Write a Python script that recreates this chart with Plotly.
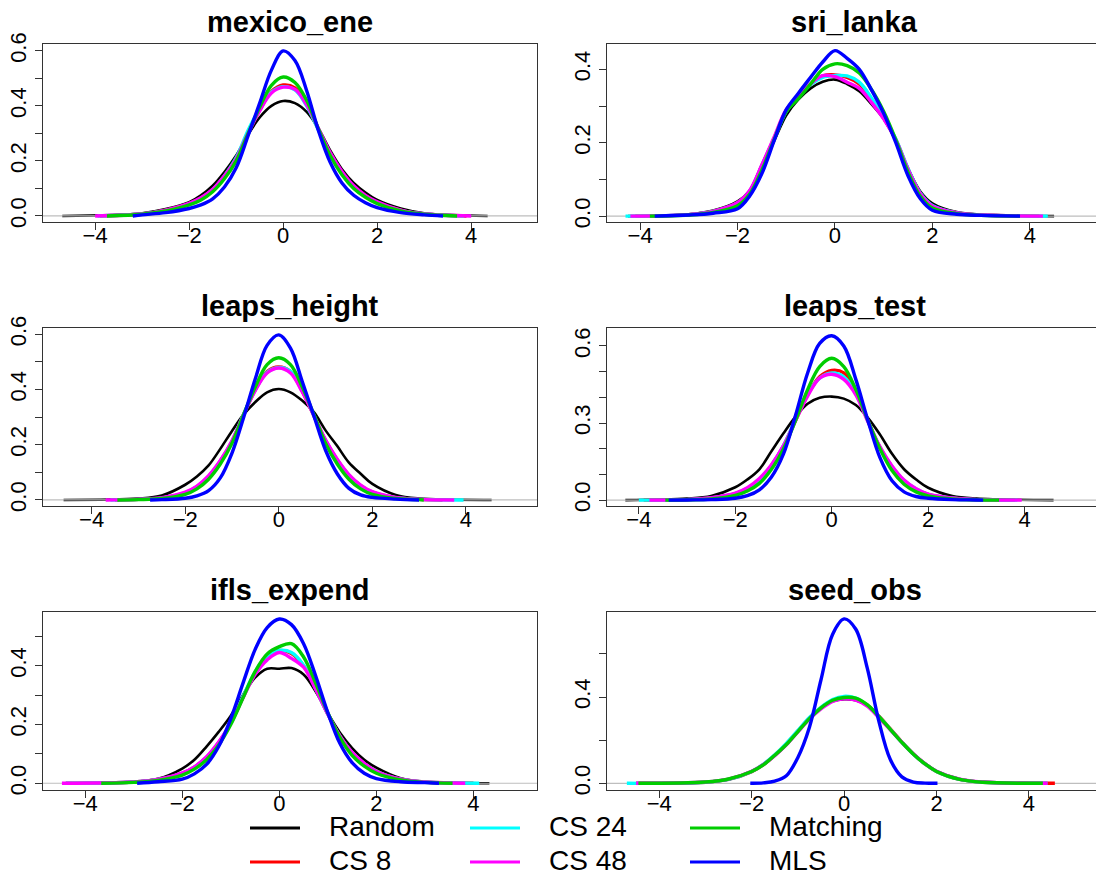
import plotly.graph_objects as go

W, H = 1096, 872

panels = ["mexico_ene", "sri_lanka", "leaps_height", "leaps_test", "ifls_expend", "seed_obs"]
methods = ["Random", "CS 8", "CS 24", "CS 48", "Matching", "MLS"]
colors = ["#000000", "#FF0000", "#00FFFF", "#FF00FF", "#00CD00", "#0000FF"]
widths = [2.6, 3.4, 3.4, 3.4, 3.4, 3.4]

grid_x = [-3, -2.5, -2, -1.75, -1.5, -1.25, -1, -0.75, -0.5, -0.25, 0,
          0.25, 0.5, 0.75, 1, 1.25, 1.5, 1.75, 2, 2.5, 3]

# ---- mexico_ene ----
mexico_ene_random   = [0.010, 0.025, 0.050, 0.075, 0.110, 0.160, 0.220, 0.295, 0.358, 0.400, 0.418, 0.410, 0.378, 0.318, 0.238, 0.170, 0.120, 0.085, 0.058, 0.027, 0.010]
mexico_ene_cs8      = [0.007, 0.021, 0.045, 0.065, 0.096, 0.145, 0.207, 0.300, 0.385, 0.452, 0.476, 0.465, 0.405, 0.315, 0.228, 0.160, 0.108, 0.074, 0.050, 0.021, 0.007]
mexico_ene_cs24     = [0.007, 0.020, 0.044, 0.064, 0.095, 0.146, 0.212, 0.310, 0.390, 0.450, 0.470, 0.458, 0.400, 0.312, 0.225, 0.158, 0.106, 0.072, 0.049, 0.020, 0.007]
mexico_ene_cs48     = [0.007, 0.021, 0.046, 0.066, 0.097, 0.146, 0.208, 0.300, 0.382, 0.447, 0.468, 0.460, 0.404, 0.318, 0.230, 0.162, 0.110, 0.075, 0.051, 0.021, 0.007]
mexico_ene_matching = [0.006, 0.018, 0.040, 0.058, 0.088, 0.135, 0.200, 0.298, 0.395, 0.475, 0.505, 0.485, 0.420, 0.316, 0.220, 0.150, 0.100, 0.068, 0.045, 0.018, 0.006]
mexico_ene_mls      = [0.004, 0.012, 0.027, 0.040, 0.062, 0.105, 0.175, 0.290, 0.410, 0.530, 0.600, 0.565, 0.455, 0.310, 0.195, 0.120, 0.075, 0.048, 0.030, 0.012, 0.004]
mexico_ene_lo = [-4.70, -3.90, -3.95, -4.00, -3.75, -3.20]
mexico_ene_hi = [4.35, 3.90, 3.85, 4.00, 3.70, 3.40]

# ---- sri_lanka ----
sri_lanka_random   = [0.005, 0.015, 0.040, 0.070, 0.139, 0.205, 0.275, 0.318, 0.348, 0.366, 0.372, 0.360, 0.340, 0.305, 0.265, 0.205, 0.130, 0.068, 0.035, 0.011, 0.004]
sri_lanka_cs8      = [0.004, 0.013, 0.036, 0.068, 0.138, 0.212, 0.288, 0.325, 0.360, 0.382, 0.385, 0.378, 0.360, 0.318, 0.268, 0.208, 0.128, 0.062, 0.028, 0.009, 0.003]
sri_lanka_cs24     = [0.004, 0.013, 0.036, 0.068, 0.138, 0.210, 0.285, 0.323, 0.358, 0.378, 0.383, 0.382, 0.365, 0.322, 0.270, 0.210, 0.130, 0.063, 0.029, 0.009, 0.003]
sri_lanka_cs48     = [0.004, 0.013, 0.037, 0.070, 0.140, 0.215, 0.290, 0.325, 0.360, 0.383, 0.380, 0.365, 0.348, 0.310, 0.265, 0.208, 0.128, 0.062, 0.028, 0.009, 0.003]
sri_lanka_matching = [0.003, 0.010, 0.028, 0.060, 0.125, 0.208, 0.285, 0.320, 0.360, 0.400, 0.415, 0.410, 0.390, 0.345, 0.285, 0.208, 0.120, 0.055, 0.022, 0.007, 0.002]
sri_lanka_mls      = [0.003, 0.008, 0.020, 0.055, 0.116, 0.205, 0.290, 0.335, 0.378, 0.420, 0.451, 0.430, 0.400, 0.344, 0.280, 0.200, 0.110, 0.048, 0.016, 0.005, 0.002]
sri_lanka_lo = [-4.25, -4.10, -4.30, -4.20, -3.80, -3.70]
sri_lanka_hi = [4.50, 4.20, 4.37, 4.27, 3.80, 3.80]

# ---- leaps_height ----
leaps_height_random   = [0.005, 0.016, 0.055, 0.085, 0.125, 0.185, 0.250, 0.310, 0.355, 0.390, 0.402, 0.390, 0.360, 0.318, 0.252, 0.195, 0.135, 0.095, 0.058, 0.018, 0.005]
leaps_height_cs8      = [0.002, 0.007, 0.026, 0.048, 0.085, 0.140, 0.212, 0.310, 0.400, 0.465, 0.482, 0.465, 0.395, 0.305, 0.215, 0.145, 0.090, 0.052, 0.028, 0.008, 0.002]
leaps_height_cs24     = [0.002, 0.007, 0.025, 0.047, 0.084, 0.140, 0.213, 0.312, 0.400, 0.462, 0.480, 0.466, 0.398, 0.306, 0.214, 0.144, 0.089, 0.051, 0.027, 0.008, 0.002]
leaps_height_cs48     = [0.002, 0.008, 0.028, 0.050, 0.088, 0.143, 0.214, 0.310, 0.397, 0.460, 0.478, 0.460, 0.392, 0.306, 0.218, 0.148, 0.092, 0.054, 0.030, 0.009, 0.002]
leaps_height_matching = [0.001, 0.005, 0.020, 0.040, 0.075, 0.130, 0.205, 0.310, 0.410, 0.490, 0.515, 0.490, 0.410, 0.310, 0.205, 0.130, 0.075, 0.040, 0.020, 0.005, 0.001]
leaps_height_mls      = [None, 0.001, 0.006, 0.015, 0.034, 0.080, 0.170, 0.300, 0.440, 0.560, 0.598, 0.550, 0.430, 0.305, 0.180, 0.095, 0.042, 0.018, 0.009, 0.003, 0.001]
leaps_height_lo = [-4.60, -3.50, -3.60, -3.70, -3.45, -2.75]
leaps_height_hi = [4.55, 3.50, 3.95, 3.75, 3.10, 3.00]

# ---- leaps_test ----
leaps_test_random   = [0.006, 0.016, 0.050, 0.080, 0.120, 0.190, 0.260, 0.325, 0.375, 0.398, 0.403, 0.395, 0.370, 0.320, 0.255, 0.180, 0.120, 0.080, 0.048, 0.016, 0.006]
leaps_test_cs8      = [0.002, 0.008, 0.025, 0.045, 0.080, 0.135, 0.210, 0.310, 0.410, 0.480, 0.505, 0.495, 0.420, 0.310, 0.205, 0.130, 0.075, 0.042, 0.022, 0.007, 0.002]
leaps_test_cs24     = [0.002, 0.008, 0.025, 0.045, 0.080, 0.135, 0.212, 0.315, 0.412, 0.475, 0.495, 0.480, 0.415, 0.308, 0.205, 0.130, 0.076, 0.043, 0.022, 0.007, 0.002]
leaps_test_cs48     = [0.002, 0.009, 0.027, 0.048, 0.084, 0.138, 0.212, 0.310, 0.405, 0.475, 0.490, 0.470, 0.410, 0.305, 0.208, 0.133, 0.078, 0.044, 0.023, 0.008, 0.002]
leaps_test_matching = [0.001, 0.004, 0.018, 0.035, 0.065, 0.120, 0.200, 0.310, 0.430, 0.520, 0.552, 0.520, 0.430, 0.310, 0.200, 0.115, 0.062, 0.032, 0.016, 0.004, 0.001]
leaps_test_mls      = [0.0005, 0.002, 0.007, 0.017, 0.040, 0.090, 0.180, 0.330, 0.495, 0.610, 0.640, 0.600, 0.470, 0.310, 0.165, 0.075, 0.032, 0.014, 0.007, 0.002, 0.0005]
leaps_test_lo = [-4.28, -3.90, -4.00, -3.78, -3.45, -3.38]
leaps_test_hi = [4.60, 3.80, 3.85, 3.94, 3.47, 3.14]

# ---- ifls_expend ----
ifls_expend_random   = [0.005, 0.015, 0.050, 0.080, 0.125, 0.175, 0.230, 0.300, 0.360, 0.390, 0.390, 0.392, 0.370, 0.312, 0.238, 0.172, 0.120, 0.080, 0.053, 0.017, 0.005]
ifls_expend_cs8      = [0.004, 0.013, 0.034, 0.055, 0.088, 0.138, 0.205, 0.292, 0.375, 0.430, 0.452, 0.442, 0.400, 0.322, 0.235, 0.160, 0.104, 0.066, 0.040, 0.014, 0.004]
ifls_expend_cs24     = [0.004, 0.013, 0.034, 0.055, 0.088, 0.138, 0.206, 0.295, 0.378, 0.432, 0.452, 0.445, 0.402, 0.322, 0.235, 0.160, 0.104, 0.066, 0.040, 0.014, 0.004]
ifls_expend_cs48     = [0.004, 0.013, 0.035, 0.056, 0.090, 0.140, 0.205, 0.290, 0.370, 0.420, 0.445, 0.425, 0.395, 0.320, 0.235, 0.160, 0.105, 0.068, 0.040, 0.014, 0.004]
ifls_expend_matching = [0.003, 0.010, 0.028, 0.048, 0.080, 0.130, 0.200, 0.290, 0.380, 0.440, 0.465, 0.475, 0.430, 0.340, 0.240, 0.155, 0.095, 0.058, 0.034, 0.011, 0.003]
ifls_expend_mls      = [None, 0.005, 0.014, 0.032, 0.064, 0.125, 0.220, 0.340, 0.455, 0.530, 0.559, 0.540, 0.475, 0.365, 0.240, 0.135, 0.070, 0.034, 0.016, 0.005, 0.002]
ifls_expend_lo = [-4.45, -4.40, -4.40, -4.48, -3.67, -2.93]
ifls_expend_hi = [4.33, 4.00, 4.12, 3.83, 3.57, 3.29]

# ---- seed_obs ----
seed_obs_random   = [0.005, 0.018, 0.054, 0.087, 0.130, 0.180, 0.240, 0.300, 0.348, 0.380, 0.390, 0.385, 0.360, 0.310, 0.250, 0.190, 0.135, 0.090, 0.055, 0.018, 0.005]
seed_obs_cs8      = [0.005, 0.018, 0.054, 0.086, 0.130, 0.182, 0.242, 0.302, 0.350, 0.383, 0.395, 0.390, 0.362, 0.312, 0.252, 0.191, 0.136, 0.090, 0.055, 0.018, 0.005]
seed_obs_cs24     = [0.005, 0.018, 0.055, 0.088, 0.132, 0.185, 0.245, 0.305, 0.352, 0.388, 0.403, 0.395, 0.362, 0.310, 0.250, 0.190, 0.135, 0.090, 0.055, 0.018, 0.005]
seed_obs_cs48     = [0.006, 0.019, 0.056, 0.087, 0.128, 0.178, 0.238, 0.298, 0.345, 0.380, 0.392, 0.385, 0.358, 0.305, 0.248, 0.190, 0.136, 0.091, 0.056, 0.019, 0.006]
seed_obs_matching = [0.006, 0.020, 0.055, 0.085, 0.130, 0.180, 0.240, 0.300, 0.350, 0.385, 0.398, 0.395, 0.365, 0.310, 0.250, 0.190, 0.135, 0.090, 0.055, 0.018, 0.005]
seed_obs_mls      = [None, None, 0.000, 0.002, 0.010, 0.035, 0.120, 0.260, 0.480, 0.690, 0.762, 0.715, 0.535, 0.290, 0.110, 0.030, 0.006, 0.001, 0.000, None, None]
seed_obs_lo = [-4.60, -4.50, -4.70, -4.50, -4.45, -2.03]
seed_obs_hi = [4.50, 4.56, 4.40, 4.40, 4.30, 2.02]

panel_data = {
    "mexico_ene": ([mexico_ene_random, mexico_ene_cs8, mexico_ene_cs24, mexico_ene_cs48, mexico_ene_matching, mexico_ene_mls], mexico_ene_lo, mexico_ene_hi),
    "sri_lanka": ([sri_lanka_random, sri_lanka_cs8, sri_lanka_cs24, sri_lanka_cs48, sri_lanka_matching, sri_lanka_mls], sri_lanka_lo, sri_lanka_hi),
    "leaps_height": ([leaps_height_random, leaps_height_cs8, leaps_height_cs24, leaps_height_cs48, leaps_height_matching, leaps_height_mls], leaps_height_lo, leaps_height_hi),
    "leaps_test": ([leaps_test_random, leaps_test_cs8, leaps_test_cs24, leaps_test_cs48, leaps_test_matching, leaps_test_mls], leaps_test_lo, leaps_test_hi),
    "ifls_expend": ([ifls_expend_random, ifls_expend_cs8, ifls_expend_cs24, ifls_expend_cs48, ifls_expend_matching, ifls_expend_mls], ifls_expend_lo, ifls_expend_hi),
    "seed_obs": ([seed_obs_random, seed_obs_cs8, seed_obs_cs24, seed_obs_cs48, seed_obs_matching, seed_obs_mls], seed_obs_lo, seed_obs_hi),
}

x_ticks = [-4, -2, 0, 2, 4]
x_ticktext = ["\u22124", "\u22122", "0", "2", "4"]

# axis ranges and y ticks per panel
x_ranges = [[-5.11, 5.40], [-4.68, 5.36], [-5.04, 5.52], [-4.66, 5.48], [-4.87, 5.31], [-5.13, 5.45]]
y_ranges = [[-0.022, 0.625], [-0.016, 0.469], [-0.022, 0.623], [-0.023, 0.670], [-0.023, 0.583], [-0.031, 0.794]]
y_tickvals = [
    [0, 0.1, 0.2, 0.3, 0.4, 0.5, 0.6],
    [0, 0.1, 0.2, 0.3, 0.4],
    [0, 0.1, 0.2, 0.3, 0.4, 0.5, 0.6],
    [0, 0.1, 0.2, 0.3, 0.4, 0.5, 0.6],
    [0, 0.1, 0.2, 0.3, 0.4, 0.5],
    [0, 0.2, 0.4, 0.6],
]
y_ticktext = [
    ["0.0", "", "0.2", "", "0.4", "", "0.6"],
    ["0.0", "", "0.2", "", "0.4"],
    ["0.0", "", "0.2", "", "0.4", "", "0.6"],
    ["0.0", "", "", "0.3", "", "", "0.6"],
    ["0.0", "", "0.2", "", "0.4", ""],
    ["0.0", "", "0.4", ""],
]

# layout in pixels
col_left = [(43, 537), (607, W)]
row_top = [44, 328, 612]
row_h = 178
col_center = [290, 854.5]

# legend layout (pixels): three columns, two rows, column-major order
legend_col_x = [250, 470, 690]
legend_row_y = [828, 862]
legend_line_len = 50
legend_text_dx = 77

FONT = "Liberation Sans, Arial, Helvetica, sans-serif"
fig = go.Figure()

layout = dict(
    width=W, height=H, margin=dict(l=0, r=0, t=0, b=0, autoexpand=False),
    paper_bgcolor="white", plot_bgcolor="white",
    font=dict(family=FONT, color="black"),
    showlegend=False,
)
annotations = []
shapes = []

for p, name in enumerate(panels):
    r, c = divmod(p, 2)
    ax = "" if p == 0 else str(p + 1)
    xa, ya = "x" + ax, "y" + ax
    series, los, his = panel_data[name]
    for m in range(len(methods)):
        xs, ys = [los[m]], [0.0]
        for gx, gy in zip(grid_x, series[m]):
            if gy is not None and los[m] < gx < his[m]:
                xs.append(gx)
                ys.append(gy)
        xs.append(his[m])
        ys.append(0.0)
        fig.add_trace(go.Scatter(
            x=xs, y=ys, mode="lines", name=methods[m],
            line=dict(color=colors[m], width=widths[m], shape="spline", smoothing=1.0),
            xaxis=xa, yaxis=ya, showlegend=False, hoverinfo="skip"))
        if m == 0:
            # zero line drawn over the first density, as in plot.density
            fig.add_trace(go.Scatter(
                x=x_ranges[p], y=[0, 0], mode="lines",
                line=dict(color="#BEBEBE", width=1.2),
                xaxis=xa, yaxis=ya, showlegend=False, hoverinfo="skip"))
    x0, x1 = col_left[c]
    top = row_top[r]
    layout["xaxis" + ax] = dict(
        domain=[x0 / W, x1 / W], anchor=ya, range=x_ranges[p], automargin=False,
        tickvals=x_ticks, ticktext=x_ticktext, ticks="outside", ticklen=7,
        ticklabelstandoff=-14,
        tickwidth=1.3, tickcolor="#333", showline=True, linecolor="#333",
        linewidth=1.3, mirror=True, showgrid=False, zeroline=False,
        tickfont=dict(size=22, family=FONT, color="black"))
    layout["yaxis" + ax] = dict(
        domain=[1 - (top + row_h) / H, 1 - top / H], anchor=xa, range=y_ranges[p],
        automargin=False,
        tickvals=y_tickvals[p], ticktext=y_ticktext[p], tickangle=-90,
        ticks="outside", ticklen=7, tickwidth=1.3, tickcolor="#333",
        showline=True, linecolor="#333", linewidth=1.3, mirror=(c == 0),
        showgrid=False, zeroline=False,
        tickfont=dict(size=22, family=FONT, color="black"))
    annotations.append(dict(
        text="<b>%s</b>" % name, x=col_center[c] / W, y=1 - (top - 22) / H,
        xref="paper", yref="paper", xanchor="center", yanchor="middle",
        showarrow=False, font=dict(size=29, family=FONT, color="black")))

# legend (keys as line shapes, labels as text), column-major like R's legend(ncol=3)
for m, meth in enumerate(methods):
    col, row = divmod(m, 2)
    lx = legend_col_x[col]
    ly = legend_row_y[row]
    shapes.append(dict(
        type="line", xref="paper", yref="paper",
        x0=lx / W, x1=(lx + legend_line_len) / W, y0=1 - ly / H, y1=1 - ly / H,
        line=dict(color=colors[m], width=3)))
    annotations.append(dict(
        text=meth, x=(lx + legend_text_dx) / W, y=1 - (ly - 2) / H,
        xref="paper", yref="paper", xanchor="left", yanchor="middle",
        showarrow=False, font=dict(size=28, family=FONT, color="black")))

layout["annotations"] = annotations
layout["shapes"] = shapes

fig.update_layout(**layout)
fig.write_html("out.html", config={"displayModeBar": False},
               post_script="document.body.style.margin='0';")
